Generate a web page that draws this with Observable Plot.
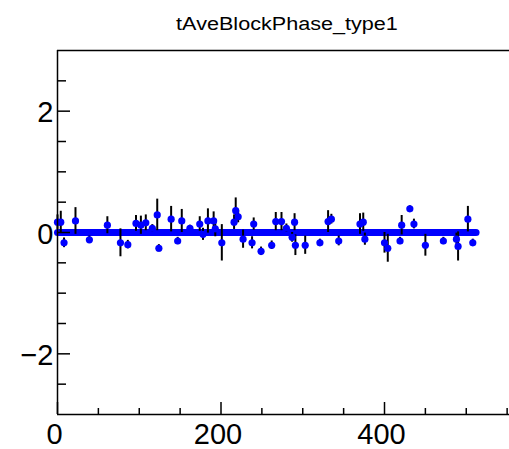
<!DOCTYPE html>
<html><head><meta charset="utf-8">
<script src="https://cdn.jsdelivr.net/npm/d3@7"></script>
<script src="https://cdn.jsdelivr.net/npm/@observablehq/plot@0.6"></script>
<style>
body{margin:0;background:#fff;overflow:hidden;font-family:"Liberation Sans",Arial,sans-serif}
#wrap{position:relative;width:509px;height:449px}
#title{position:absolute;top:15px;left:287px;transform:translateX(-50%) scaleX(1.2);font-size:18px;line-height:18px;white-space:nowrap;color:#000}
</style></head>
<body>
<div id="wrap"><div id="title">tAveBlockPhase_type1</div></div>
<script>
const titleText = "tAveBlockPhase_type1";
const xs   = [0, 4, 8, 22, 39, 61, 77, 86, 96, 102, 108, 116, 122, 124, 139, 147, 152, 162, 174, 178, 184, 191, 193, 201, 216, 218, 221, 227, 238, 240, 249, 262, 267, 274, 280, 287, 290, 291, 303, 321, 331, 335, 344, 370, 374, 376, 400, 404, 419, 421, 431, 436, 450, 472, 488, 490, 502, 508];
const ys   = [0.17, 0.17, -0.17, 0.19, -0.12, 0.12, -0.17, -0.2, 0.15, 0.12, 0.16, 0.07, 0.29, -0.26, 0.22, -0.14, 0.19, 0.07, 0.14, -0.03, 0.19, 0.19, 0.06, -0.17, 0.17, 0.36, 0.26, -0.11, -0.17, 0.14, -0.31, -0.21, 0.18, 0.18, 0.07, -0.08, 0.17, -0.21, -0.21, -0.17, 0.18, 0.22, -0.14, 0.14, 0.17, -0.11, -0.17, -0.26, -0.14, 0.12, 0.39, 0.14, -0.21, -0.14, -0.11, -0.23, 0.22, -0.17];
const errs = [0.12, 0.18, 0.08, 0.22, 0.06, 0.14, 0.23, 0.07, 0.13, 0.15, 0.13, 0.06, 0.26, 0.06, 0.21, 0.06, 0.19, 0.05, 0.12, 0.1, 0.2, 0.15, 0.13, 0.3, 0.12, 0.21, 0.1, 0.15, 0.1, 0.1, 0.07, 0.07, 0.15, 0.15, 0.07, 0.08, 0.14, 0.17, 0.15, 0.06, 0.18, 0.08, 0.08, 0.17, 0.15, 0.1, 0.17, 0.23, 0.06, 0.16, 0.05, 0.08, 0.18, 0.06, 0.1, 0.24, 0.21, 0.06];
const fitX = [0, 512];
const fitY = [0, 0];
const xMajor = [0, 200, 400];
const xMinor = [50, 100, 150, 250, 300, 350, 450, 500, 550];
const yMajor = [-2, 0, 2];
const yMinor = [-2.5, -1.5, -1, -0.5, 0.5, 1, 1.5, 2.5];

const data = xs.map((x, i) => ({x, y: ys[i], e: errs[i]}));
const fit = fitX.map((x, i) => ({x, y: fitY[i]}));
const blank = () => "";
const intFmt = d3.format("d");

const chart = Plot.plot({
  width: 509, height: 449,
  marginLeft: 57, marginRight: 0, marginTop: 50, marginBottom: 35,
  x: {domain: [0, 552.9]},
  y: {domain: [-3, 3]},
  style: {fontFamily: "Liberation Sans, Arial, sans-serif", color: "black", background: "transparent"},
  marks: [
    Plot.line(fit, {x: "x", y: "y", stroke: "#0000ff", strokeWidth: 7}),
    Plot.ruleX(data, {x: "x", y1: d => d.y - d.e, y2: d => d.y + d.e, stroke: "black", strokeWidth: 2}),
    Plot.dot(data, {x: "x", y: "y", r: 3.6, fill: "#0000ff"}),
    Plot.ruleY([3], {stroke: "black", strokeWidth: 1.5}),
    Plot.ruleY([-3], {stroke: "black", strokeWidth: 1.5}),
    Plot.ruleX([0], {stroke: "black", strokeWidth: 1.5}),
    Plot.axisX(xMajor, {tickSize: -12, tickFormat: blank, label: null, strokeWidth: 1.5}),
    Plot.axisX(xMinor, {tickSize: -6, tickFormat: blank, label: null, strokeWidth: 1.5}),
    Plot.axisX(xMajor, {tickSize: 0, tickPadding: 9, fontSize: 29, dx: -3, tickFormat: intFmt, label: null}),
    Plot.axisY(yMajor, {tickSize: -13, tickFormat: blank, label: null, strokeWidth: 1.5}),
    Plot.axisY(yMinor, {tickSize: -9, tickFormat: blank, label: null, strokeWidth: 1.5}),
    Plot.axisY(yMajor, {tickSize: 0, tickPadding: 4, fontSize: 29, dy: 2, tickFormat: intFmt, label: null})
  ]
});
document.getElementById("wrap").appendChild(chart);
chart.style.position = "absolute";
chart.style.top = "0";
chart.style.left = "0";
document.getElementById("title").textContent = titleText;
</script>
</body></html>
